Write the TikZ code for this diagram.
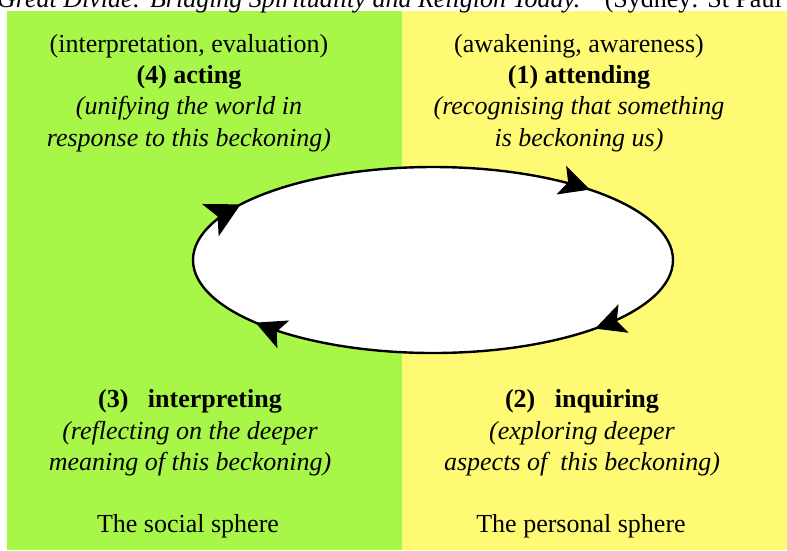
\documentclass[tikz,border=0pt]{standalone}
\usepackage{fontspec}
\setmainfont{Liberation Serif}
\usetikzlibrary{arrows.meta,decorations.markings}
\definecolor{socialgreen}{RGB}{168,247,72}
\definecolor{personalyellow}{RGB}{255,250,115}

\begin{document}
\begin{tikzpicture}[
    x=1pt, y=-1pt,
    txt/.style={align=center, font=\fontsize{26}{31.3}\selectfont, inner sep=0pt},
    cycleline/.style={line width=2.4pt, fill=white, postaction={decorate},
        decoration={markings,
            mark=at position 0.10 with {\arrow{Stealth[length=30pt,width=30pt,inset=7pt]}},
            mark=at position 0.415 with {\arrow{Stealth[length=30pt,width=30pt,inset=7pt]}},
            mark=at position 0.57 with {\arrow{Stealth[length=34pt,width=36pt,inset=8pt]}},
            mark=at position 0.895 with {\arrow{Stealth[length=30pt,width=30pt,inset=7pt]}}}}
]
    \useasboundingbox (0,0) rectangle (787,550);
    \clip (0,0) rectangle (787,550);

    % zwei Bereiche
    \fill[socialgreen] (7,11) rectangle (402,550);
    \fill[personalyellow] (402,11) rectangle (787,550);

    % abgeschnittene Quellenzeile
    \node[txt, anchor=base west] (source) at (-3,7)
        {\textit{Great Divide: Bridging Spirituality and Religion Today.}''\ \ (Sydney: St Paul};

    % Zyklus
    \draw[cycleline] (433,260) ellipse [x radius=240, y radius=93];

    % Texte oben
    \node[txt] (acting) at (189,93)
        {(interpretation, evaluation)\\ \textbf{(4) acting}\\
         \textit{(unifying the world in}\\ \textit{response to this beckoning)}};
    \node[txt] (attending) at (579,93)
        {(awakening, awareness)\\ \textbf{(1) attending}\\
         \textit{(recognising that something}\\ \textit{is beckoning us)}};

    % Texte unten
    \node[txt] (interpreting) at (190,433)
        {\textbf{(3)\ \ \ interpreting}\\ \textit{(reflecting on the deeper}\\
         \textit{meaning of this beckoning)}};
    \node[txt] (inquiring) at (582,433)
        {\textbf{(2)\ \ \ inquiring}\\ \textit{(exploring deeper}\\
         \textit{aspects of\ \ this beckoning)}};

    % Sphären
    \node[txt, anchor=base] (social) at (188,532) {The social sphere};
    \node[txt, anchor=base] (personal) at (581,532) {The personal sphere};
\end{tikzpicture}
\end{document}
